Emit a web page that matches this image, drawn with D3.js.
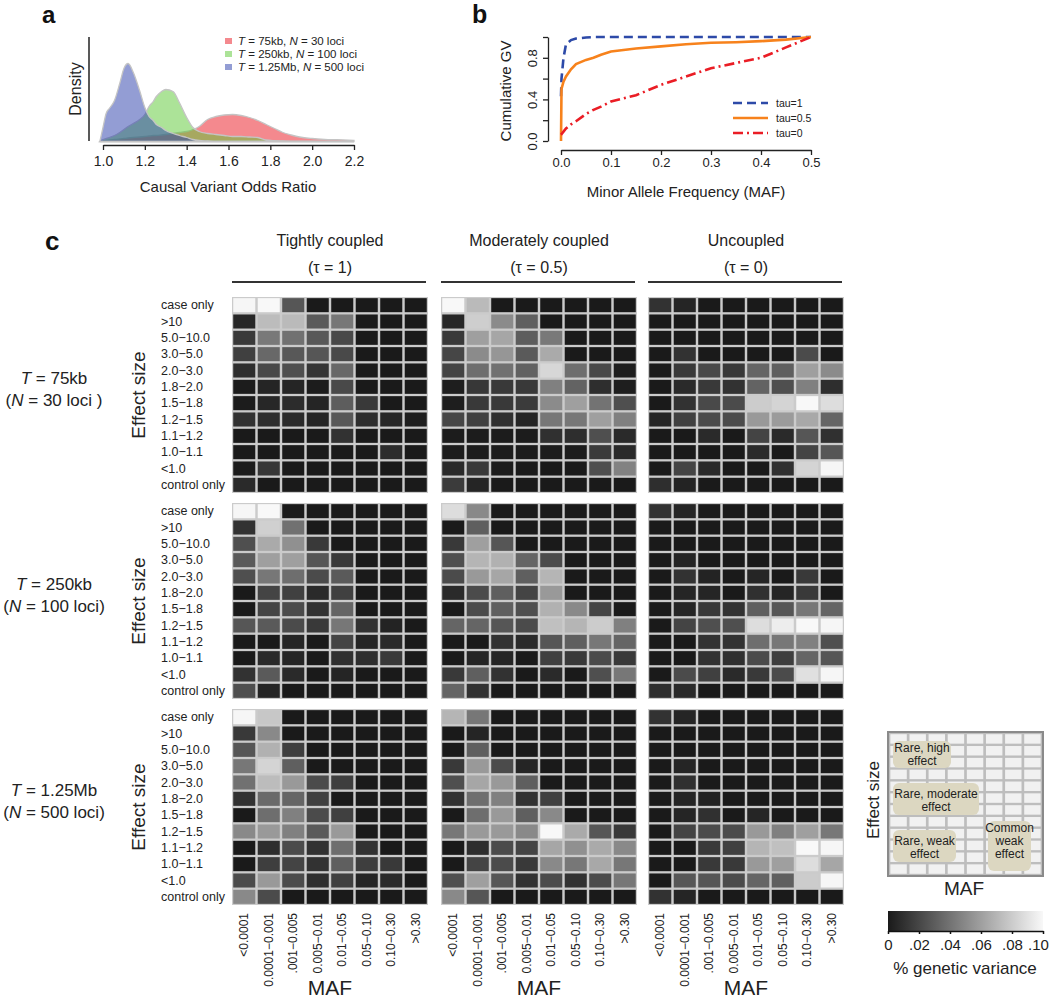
<!DOCTYPE html>
<html><head><meta charset="utf-8">
<script src="https://cdn.jsdelivr.net/npm/d3@7"></script>
<style>body{margin:0;background:#fff} svg{font-family:"Liberation Sans",Arial,sans-serif}</style>
</head><body><svg id="c" width="1050" height="1000"></svg>
<script>
// ---------- Panel a data ----------
const oddsGrid = [0.985,1.0,1.015,1.03,1.055,1.08,1.1,1.12,1.145,1.175,1.2,1.22,1.24,1.255,1.28,1.3,1.335,1.365,1.4,1.43,1.46,1.5,1.54,1.58,1.62,1.66,1.7,1.74,1.78,1.82,1.86,1.9,1.94,2.0,2.06,2.12,2.2];
const dens75kb = [0,0.05,0.1,0.15,0.2,0.25,0.3,0.35,0.4,0.45,0.5,0.55,0.6,0.6,0.65,0.7,0.8,0.9,1.0,1.2,1.5,2.2,2.5,2.65,2.7,2.6,2.4,2.1,1.7,1.3,0.9,0.65,0.45,0.3,0.22,0.18,0.12];
const dens250kb = [0,0.2,0.3,0.4,0.6,0.9,1.2,1.5,1.8,2.2,2.7,3.5,4.0,4.5,5.0,5.2,5.0,3.9,2.4,1.4,1.0,0.8,0.7,0.6,0.5,0.5,0.45,0.4,0.15,0.08,0.05,0.02,0,0,0,0,0];
const dens125Mb = [0,1.4,2.8,3.3,4.1,5.8,7.3,7.8,6.9,5.1,3.4,2.5,2.1,1.7,1.4,1.1,0.8,0.6,0.4,0.2,0.1,0.05,0,0,0,0,0,0,0,0,0,0,0,0,0,0,0];
const densLabels = [["75kb","30"],["250kb","100"],["1.25Mb","500"]];
const densColors = ["rgba(235,40,50,0.55)","rgba(90,200,50,0.5)","rgba(40,60,170,0.5)"];
const oddsTicks = [1.0,1.2,1.4,1.6,1.8,2.0,2.2];

// ---------- Panel b data ----------
const mafGrid = [0,0.001,0.005,0.01,0.02,0.03,0.05,0.065,0.08,0.1,0.15,0.2,0.25,0.3,0.35,0.4,0.45,0.5];
const cumTau1 = [0.43,0.6,0.8,0.93,0.97,0.985,0.995,1,1,1,1,1,1,1,1,1,1,1];
const cumTau05 = [0,0.5,0.57,0.62,0.69,0.74,0.78,0.8,0.83,0.86,0.89,0.91,0.93,0.945,0.95,0.96,0.975,1.0];
const cumTau0 = [0.06,0.065,0.09,0.12,0.16,0.19,0.26,0.30,0.33,0.38,0.44,0.54,0.62,0.70,0.75,0.8,0.9,1.0];
const tauNames = ["tau=1","tau=0.5","tau=0"];

// ---------- Panel c data ----------
const mafBins = ["<0.0001","0.0001\u22120.001",".001\u22120.005","0.005\u22120.01","0.01\u22120.05","0.05\u22120.10","0.10\u22120.30",">0.30"];
const effectBins = ["case only",">10","5.0\u221210.0","3.0\u22125.0","2.0\u22123.0","1.8\u22122.0","1.5\u22121.8","1.2\u22121.5","1.1\u22121.2","1.0\u22121.1","<1.0","control only"];
const couplingTitles = [["Tightly coupled","(\u03c4 = 1)"],["Moderately coupled","(\u03c4 = 0.5)"],["Uncoupled","(\u03c4 = 0)"]];
const regionLabels = [["75kb","30 loci )"],["250kb","100 loci)"],["1.25Mb","500 loci)"]];

const hm75_t1 = [
[0.099,0.100,0.027,0,0,0,0,0],
[0.006,0.073,0.072,0.029,0.042,0,0,0],
[0.014,0.043,0.039,0.028,0.021,0,0,0],
[0.017,0.035,0.028,0.027,0.021,0,0,0],
[0.009,0.021,0.024,0.012,0.035,0,0,0],
[0.001,0.005,0.005,0.001,0.021,0,0,0],
[0.001,0.006,0.008,0.005,0.030,0.014,0,0],
[0.011,0.009,0.007,0.005,0.028,0.009,0.006,0.002],
[0,0,0,0,0.011,0,0,0],
[0,0,0,0,0,0,0.008,0],
[0.001,0.013,0,0,0,0,0,0],
[0.007,0,0,0,0,0,0,0]];
const hm75_t05 = [
[0.100,0.072,0,0,0,0,0,0],
[0.006,0.081,0.051,0.031,0,0,0,0],
[0.014,0.060,0.063,0.030,0.043,0,0,0],
[0.020,0.051,0.056,0.029,0.065,0,0,0],
[0.019,0.038,0.039,0.032,0.085,0.038,0.021,0.002],
[0.002,0.013,0.014,0.014,0.046,0.033,0.009,0.002],
[0.002,0.014,0.014,0.015,0.051,0.060,0.040,0.024],
[0.020,0.017,0.010,0.005,0.042,0.042,0.060,0.046],
[0.001,0.001,0.001,0.001,0.010,0.009,0.024,0.007],
[0.001,0.001,0.001,0.001,0.001,0.001,0.015,0.007],
[0.007,0.014,0.001,0,0,0,0.024,0.047],
[0.015,0.005,0,0,0,0,0,0]];
const hm75_t0 = [
[0.011,0.005,0,0,0,0,0,0],
[0,0,0,0,0,0,0,0],
[0,0,0,0,0,0,0,0],
[0,0.011,0,0,0,0,0.022,0],
[0,0.014,0.021,0.014,0.034,0.031,0.060,0.051],
[0,0.007,0.014,0.011,0.033,0.024,0.046,0.009],
[0,0.011,0.021,0.022,0.080,0.084,0.100,0.088],
[0.005,0.017,0.022,0.022,0.057,0.058,0.064,0.034],
[0,0,0.007,0,0.019,0.007,0.027,0.010],
[0,0,0,0,0.007,0,0.019,0.027],
[0,0.019,0.007,0,0,0.010,0.084,0.099],
[0.009,0.004,0,0,0,0,0,0]];
const hm250_t1 = [
[0.099,0.100,0,0,0,0,0,0],
[0.011,0.082,0.039,0,0,0,0,0],
[0.024,0.065,0.053,0.014,0,0,0,0],
[0.029,0.060,0.060,0.027,0.014,0,0,0],
[0.024,0.042,0.038,0.022,0.029,0,0,0],
[0,0.019,0.017,0.007,0.017,0,0,0],
[0,0.019,0.022,0.011,0.034,0,0,0],
[0.027,0.029,0.022,0.014,0.042,0.011,0.004,0],
[0,0,0.005,0,0.019,0.005,0.007,0],
[0,0.007,0.005,0,0.010,0.009,0.014,0],
[0.011,0.029,0.007,0,0.005,0,0,0],
[0.024,0.005,0,0,0,0,0,0]];
const hm250_t05 = [
[0.088,0.050,0,0,0,0,0,0],
[0,0.031,0,0,0,0,0,0],
[0.014,0.060,0.027,0,0,0,0,0],
[0.024,0.070,0.068,0.034,0.022,0,0,0],
[0.022,0.057,0.063,0.031,0.070,0,0,0],
[0.007,0.022,0.031,0.019,0.057,0,0,0],
[0,0.022,0.031,0.024,0.068,0.050,0.019,0],
[0.034,0.034,0.027,0.022,0.075,0.070,0.080,0.046],
[0,0,0.011,0.007,0.027,0.031,0.042,0.034],
[0,0.005,0.005,0,0.017,0.014,0.022,0.014],
[0.014,0.031,0.011,0,0.007,0,0.024,0.042],
[0.034,0.011,0,0,0,0,0,0]];
const hm250_t0 = [
[0.011,0.005,0,0,0,0,0,0],
[0,0,0,0,0,0,0,0],
[0,0,0,0,0,0,0,0],
[0,0.005,0,0,0,0,0,0],
[0,0.011,0.004,0,0.005,0,0.014,0],
[0,0.005,0.005,0,0.010,0.005,0.014,0],
[0,0.005,0.014,0.011,0.031,0.027,0.042,0.034],
[0,0.019,0.024,0.024,0.088,0.095,0.100,0.099],
[0,0,0.011,0.011,0.038,0.042,0.046,0.024],
[0,0,0.011,0.010,0.022,0.016,0.034,0.027],
[0,0.022,0.017,0.007,0.014,0.022,0.089,0.099],
[0.009,0.007,0,0,0,0,0,0]];
const hm125_t1 = [
[0.099,0.078,0,0,0,0,0,0],
[0.014,0.050,0,0,0,0,0,0],
[0.027,0.068,0.016,0,0,0,0,0],
[0.042,0.084,0.031,0,0,0,0,0],
[0.039,0.073,0.057,0.022,0.016,0,0,0],
[0.011,0.036,0.034,0.017,0,0,0,0],
[0,0.038,0.046,0.022,0.017,0,0,0],
[0.050,0.057,0.046,0.029,0.057,0,0,0],
[0,0.009,0.022,0.011,0.038,0.011,0,0],
[0,0.016,0.019,0.011,0.031,0.016,0.014,0],
[0.022,0.057,0.022,0.009,0.017,0.005,0.007,0],
[0.050,0.022,0,0,0,0,0,0]];
const hm125_t05 = [
[0.070,0.042,0,0,0,0,0,0],
[0,0.005,0,0,0,0,0,0],
[0,0.031,0,0,0,0,0,0],
[0.014,0.057,0.022,0.005,0,0,0,0],
[0.024,0.063,0.057,0.031,0,0,0,0],
[0.011,0.038,0.046,0.011,0.017,0,0,0],
[0,0.038,0.057,0.031,0.050,0,0,0],
[0.042,0.057,0.057,0.050,0.100,0.065,0.027,0.014],
[0,0.009,0.022,0.019,0.063,0.053,0.065,0.050],
[0,0.019,0.022,0.014,0.050,0.042,0.064,0.042],
[0.024,0.060,0.027,0.011,0.022,0.011,0.022,0.042],
[0.050,0.027,0,0,0,0,0,0]];
const hm125_t0 = [
[0.011,0.005,0,0,0,0,0,0],
[0,0,0,0,0,0,0,0],
[0,0,0,0,0,0,0,0],
[0,0.005,0,0,0,0,0,0],
[0,0.010,0,0,0,0,0,0],
[0,0.005,0.004,0,0,0,0,0],
[0,0.005,0.010,0,0.005,0,0,0],
[0,0.019,0.022,0.022,0.057,0.046,0.060,0.042],
[0,0,0.014,0.017,0.070,0.075,0.100,0.099],
[0,0,0.014,0.014,0.057,0.060,0.088,0.063],
[0,0.027,0.027,0.022,0.034,0.031,0.080,0.099],
[0.011,0.005,0,0,0,0,0,0]];
const heatRows = [[hm75_t1,hm75_t05,hm75_t0],[hm250_t1,hm250_t05,hm250_t0],[hm125_t1,hm125_t05,hm125_t0]];
const legendTicks = [0,0.02,0.04,0.06,0.08,0.10];
const schematicNotes = [["Rare, high","effect"],["Rare, moderate","effect"],["Rare, weak","effect"],["Common","weak","effect"]];

// ---------- drawing ----------
const svg = d3.select("#c");
const ink = "#222";

function panelLetter(x,y,t,fs){
  svg.append("text").attr("x",x).attr("y",y).attr("font-size",fs||25).attr("font-weight","bold")
    .attr("fill","#111").text(t);
}

// ===== Panel a =====
panelLetter(42,23,"a",24);
const xA = d3.scaleLinear().domain([1.0,2.2]).range([103,354]);
const yA = d3.scaleLinear().domain([0,10]).range([141.5,41.5]);
const gA = svg.append("g");
const areaA = d3.area().x((d,i)=>xA(oddsGrid[i])).y0(yA(0)).y1(d=>yA(d)).curve(d3.curveMonotoneX);
[dens75kb,dens250kb,dens125Mb].forEach((dd,k)=>{
  gA.append("path").attr("d",areaA(dd)).attr("fill",densColors[k])
    .attr("stroke","#c4c4c4").attr("stroke-width",1.3);
});
gA.append("line").attr("x1",89).attr("x2",89).attr("y1",37).attr("y2",141).attr("stroke",ink).attr("stroke-width",1.5);
const axA = svg.append("g").attr("transform","translate(0,145)")
  .call(d3.axisBottom(xA).tickValues(oddsTicks).tickFormat(d3.format(".1f")).tickSize(5).tickSizeOuter(0));
axA.selectAll("path,line").attr("stroke",ink).attr("stroke-width",1.3);
axA.selectAll("text").attr("font-size",14).attr("fill",ink).attr("font-family","Liberation Sans, Arial").attr("dy","0.95em");
svg.append("text").attr("x",75).attr("y",89).attr("transform","rotate(-90,75,89)")
  .attr("text-anchor","middle").attr("dominant-baseline","central").attr("font-size",16).attr("fill",ink).text("Density");
svg.append("text").attr("x",228).attr("y",192).attr("text-anchor","middle").attr("font-size",15).attr("fill",ink)
  .text("Causal Variant Odds Ratio");
const legA = svg.append("g");
densLabels.forEach((l,i)=>{
  const y = 41 + i*13;
  legA.append("rect").attr("x",225).attr("y",y-3).attr("width",7).attr("height",6).attr("fill",densColors[i]);
  const t = legA.append("text").attr("x",238).attr("y",y).attr("dominant-baseline","central").attr("font-size",11.5).attr("fill",ink);
  t.append("tspan").attr("font-style","italic").text("T");
  t.append("tspan").text(" = "+l[0]+", ");
  t.append("tspan").attr("font-style","italic").text("N");
  t.append("tspan").text(" = "+l[1]+" loci");
});

// ===== Panel b =====
panelLetter(472,23,"b",25);
const xB = d3.scaleLinear().domain([0,0.5]).range([561,811]);
const yB = d3.scaleLinear().domain([0,1]).range([141,37]);
const ayB = svg.append("g").attr("transform","translate(548,0)")
  .call(d3.axisLeft(yB).tickValues([0,0.2,0.4,0.6,0.8,1.0]).tickSize(5).tickSizeOuter(0)
    .tickFormat(d=>([0,0.4,0.8].some(v=>Math.abs(v-d)<1e-9)?d3.format(".1f")(d):"")));
ayB.selectAll("path,line").attr("stroke",ink).attr("stroke-width",1.3);
ayB.selectAll("text").attr("font-size",13).attr("fill",ink).attr("font-family","Liberation Sans, Arial")
  .attr("text-anchor","middle").attr("x",0).attr("dy",0)
  .attr("transform",function(){return "translate(-16,0) rotate(-90)";}).attr("dominant-baseline","central");
const axB = svg.append("g").attr("transform","translate(0,150)")
  .call(d3.axisBottom(xB).tickValues([0,0.1,0.2,0.3,0.4,0.5]).tickFormat(d3.format(".1f")).tickSize(5).tickSizeOuter(0));
axB.selectAll("path,line").attr("stroke",ink).attr("stroke-width",1.3);
axB.selectAll("text").attr("font-size",13).attr("fill",ink).attr("font-family","Liberation Sans, Arial");
svg.append("text").attr("x",505).attr("y",91).attr("transform","rotate(-90,505,91)")
  .attr("text-anchor","middle").attr("dominant-baseline","central").attr("font-size",15).attr("fill",ink).text("Cumulative GV");
svg.append("text").attr("x",686).attr("y",197).attr("text-anchor","middle").attr("font-size",15).attr("fill",ink)
  .text("Minor Allele Frequency (MAF)");
const lineB = d3.line().x((d,i)=>xB(mafGrid[i])).y(d=>yB(d));
const tauStyles = [{c:"#2d4aa8",dash:"9,5"},{c:"#f7821c",dash:null},{c:"#ea1d25",dash:"10,4,2,4"}];
[cumTau1,cumTau05,cumTau0].forEach((s,k)=>{
  svg.append("path").attr("d",lineB(s)).attr("fill","none").attr("stroke",tauStyles[k].c)
    .attr("stroke-width",2.6).attr("stroke-dasharray",tauStyles[k].dash);
});
tauNames.forEach((n,i)=>{
  const y = 103 + i*15;
  svg.append("line").attr("x1",733).attr("x2",768).attr("y1",y).attr("y2",y).attr("stroke",tauStyles[i].c)
    .attr("stroke-width",2.6).attr("stroke-dasharray",tauStyles[i].dash);
  svg.append("text").attr("x",776).attr("y",y).attr("dominant-baseline","central").attr("font-size",10.5).attr("fill",ink).text(n);
});

// ===== Panel c =====
panelLetter(45,250,"c",26);
const panelX = [232,441,648];
const panelY = [297,503,709];
const PW = 196, PH = 196;
const grey = d3.scaleLinear().domain([0,0.1]).range(["#1a1a1a","#f8f8f8"]).clamp(true);

couplingTitles.forEach((t,j)=>{
  const cx = panelX[j]+PW/2;
  svg.append("text").attr("x",cx).attr("y",246).attr("text-anchor","middle").attr("font-size",16).attr("fill",ink).text(t[0]);
  svg.append("text").attr("x",cx).attr("y",273).attr("text-anchor","middle").attr("font-size",16).attr("fill",ink).text(t[1]);
  svg.append("line").attr("x1",panelX[j]).attr("x2",panelX[j]+PW-2).attr("y1",282).attr("y2",282).attr("stroke","#333").attr("stroke-width",2);
});

heatRows.forEach((row,i)=>{
  const y0 = panelY[i];
  const yS = d3.scaleBand().domain(effectBins).range([y0,y0+PH]).paddingInner(0.14).paddingOuter(0.07);
  // region label
  const ly = y0+PH/2 - 11;
  const t1 = svg.append("text").attr("x",54).attr("y",ly).attr("text-anchor","middle").attr("font-size",17).attr("fill",ink);
  t1.append("tspan").attr("font-style","italic").text("T");
  t1.append("tspan").text(" = "+regionLabels[i][0]);
  const t2 = svg.append("text").attr("x",54).attr("y",ly+22).attr("text-anchor","middle").attr("font-size",17).attr("fill",ink);
  t2.append("tspan").text("(");
  t2.append("tspan").attr("font-style","italic").text("N");
  t2.append("tspan").text(" = "+regionLabels[i][1]);
  // Effect size
  const ey = y0+PH/2;
  svg.append("text").attr("x",138).attr("y",ey).attr("transform",`rotate(-90,138,${ey})`)
    .attr("text-anchor","middle").attr("dominant-baseline","central").attr("font-size",19).attr("fill",ink).text("Effect size");
  // row labels
  effectBins.forEach(e=>{
    svg.append("text").attr("x",161).attr("y",yS(e)+yS.bandwidth()/2).attr("dominant-baseline","central")
      .attr("font-size",12.5).attr("fill",ink).text(e);
  });
  row.forEach((mat,j)=>{
    const x0 = panelX[j];
    const xS = d3.scaleBand().domain(mafBins).range([x0,x0+PW]).paddingInner(0.1).paddingOuter(0.05);
    const g = svg.append("g");
    g.append("rect").attr("x",x0).attr("y",y0).attr("width",PW).attr("height",PH).attr("fill","#cbcbcb");
    mat.forEach((vals,r)=>{
      vals.forEach((v,c)=>{
        g.append("rect").attr("x",xS(mafBins[c])).attr("y",yS(effectBins[r]))
          .attr("width",xS.bandwidth()).attr("height",yS.bandwidth()).attr("fill",grey(v));
      });
    });
    if(i===2){
      mafBins.forEach(m=>{
        const cx = xS(m)+xS.bandwidth()/2;
        svg.append("text").attr("transform",`translate(${cx},913) rotate(-90)`).attr("text-anchor","end")
          .attr("dominant-baseline","central").attr("font-size",12).attr("fill",ink).text(m);
      });
      svg.append("text").attr("x",x0+PW/2).attr("y",995).attr("text-anchor","middle").attr("font-size",21).attr("fill",ink).text("MAF");
    }
  });
});

// ===== Schematic legend =====
const sx = d3.scaleBand().domain(mafBins).range([889,1042]).paddingInner(0.14).paddingOuter(0.07);
const sy = d3.scaleBand().domain(effectBins).range([733,875]).paddingInner(0.2).paddingOuter(0.1);
svg.append("rect").attr("x",888).attr("y",732).attr("width",155).attr("height",144).attr("fill","#bdbdbd")
  .attr("stroke","#8a8a8a").attr("stroke-width",2);
effectBins.forEach(e=>mafBins.forEach(m=>{
  svg.append("rect").attr("x",sx(m)).attr("y",sy(e)).attr("width",sx.bandwidth()).attr("height",sy.bandwidth()).attr("fill","#f1f1f1");
}));
const noteBoxes = [{x:893,y:741,w:58,h:27},{x:893,y:783,w:86,h:32},{x:893,y:830,w:63,h:32},{x:988,y:821,w:43,h:50}];
const noteLineY = [[748,761],[794,807],[841,854],[828,841,854]];
schematicNotes.forEach((lines,k)=>{
  const b = noteBoxes[k];
  svg.append("rect").attr("x",b.x).attr("y",b.y).attr("width",b.w).attr("height",b.h).attr("rx",6).attr("fill","#dcd7c1");
  lines.forEach((s,li)=>{
    svg.append("text").attr("x",b.x+b.w/2).attr("y",noteLineY[k][li]).attr("text-anchor","middle")
      .attr("dominant-baseline","central").attr("font-size",12).attr("fill",ink).text(s);
  });
});
svg.append("text").attr("x",873).attr("y",800).attr("transform","rotate(-90,873,800)").attr("text-anchor","middle")
  .attr("dominant-baseline","central").attr("font-size",17).attr("fill",ink).text("Effect size");
svg.append("text").attr("x",964).attr("y",895).attr("text-anchor","middle").attr("font-size",19).attr("fill",ink).text("MAF");

// ===== Colour bar =====
const defs = svg.append("defs");
const grad = defs.append("linearGradient").attr("id","gbar");
grad.append("stop").attr("offset","0%").attr("stop-color",grey(0));
grad.append("stop").attr("offset","100%").attr("stop-color",grey(0.1));
const cb = d3.scaleLinear().domain([0,0.1]).range([888,1043]);
svg.append("rect").attr("x",888).attr("y",911).attr("width",155).attr("height",20).attr("fill","url(#gbar)");
const cbAx = svg.append("g").attr("transform","translate(0,931)")
  .call(d3.axisBottom(cb).tickValues(legendTicks).tickSize(3).tickSizeOuter(0)
    .tickFormat(d=>d===0?"0":d3.format(".2f")(d).replace(/^0/,"")));
cbAx.selectAll("path,line").attr("stroke","#111").attr("stroke-width",1.5);
cbAx.selectAll("text").attr("font-size",15).attr("fill",ink).attr("font-family","Liberation Sans, Arial").attr("dy","0.85em");
cbAx.selectAll(".tick:last-of-type text").attr("dx",-5);
svg.append("text").attr("x",965).attr("y",974).attr("text-anchor","middle").attr("font-size",17).attr("fill",ink).text("% genetic variance");
</script></body></html>
